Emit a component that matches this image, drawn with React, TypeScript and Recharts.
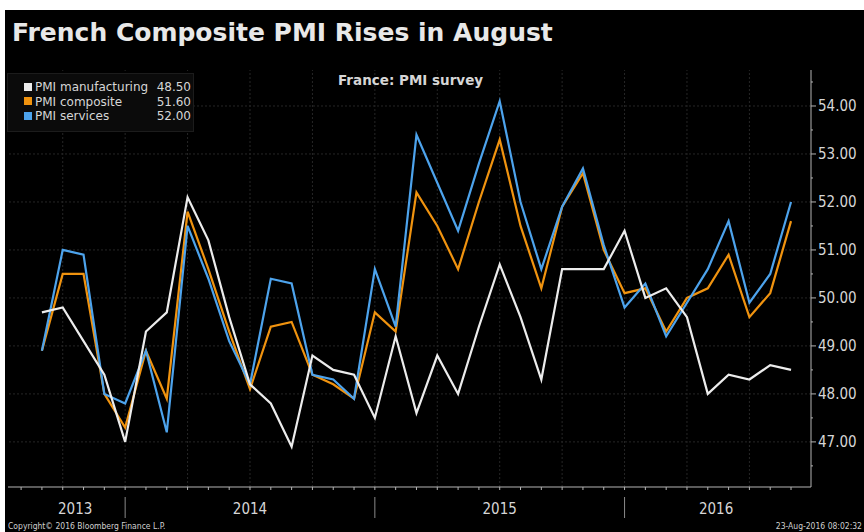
import { LineChart, Line, XAxis, YAxis, ReferenceLine } from 'recharts';

// monthly readings, Aug 2013 .. Aug 2016
const months = [
  'Aug-13', 'Sep-13', 'Oct-13', 'Nov-13', 'Dec-13',
  'Jan-14', 'Feb-14', 'Mar-14', 'Apr-14', 'May-14', 'Jun-14', 'Jul-14', 'Aug-14', 'Sep-14', 'Oct-14', 'Nov-14', 'Dec-14',
  'Jan-15', 'Feb-15', 'Mar-15', 'Apr-15', 'May-15', 'Jun-15', 'Jul-15', 'Aug-15', 'Sep-15', 'Oct-15', 'Nov-15', 'Dec-15',
  'Jan-16', 'Feb-16', 'Mar-16', 'Apr-16', 'May-16', 'Jun-16', 'Jul-16', 'Aug-16',
];
const manufacturing = [
  49.7, 49.8, 49.1, 48.4, 47.0,
  49.3, 49.7, 52.1, 51.2, 49.6, 48.2, 47.8, 46.9, 48.8, 48.5, 48.4, 47.5,
  49.2, 47.6, 48.8, 48.0, 49.4, 50.7, 49.6, 48.3, 50.6, 50.6, 50.6, 51.4,
  50.0, 50.2, 49.6, 48.0, 48.4, 48.3, 48.6, 48.5,
];
const composite = [
  48.9, 50.5, 50.5, 48.0, 47.3,
  48.9, 47.9, 51.8, 50.6, 49.3, 48.1, 49.4, 49.5, 48.4, 48.2, 47.9, 49.7,
  49.3, 52.2, 51.5, 50.6, 52.0, 53.3, 51.5, 50.2, 51.9, 52.6, 51.0, 50.1,
  50.2, 49.3, 50.0, 50.2, 50.9, 49.6, 50.1, 51.6,
];
const services = [
  48.9, 51.0, 50.9, 48.0, 47.8,
  48.9, 47.2, 51.5, 50.4, 49.1, 48.2, 50.4, 50.3, 48.4, 48.3, 47.9, 50.6,
  49.4, 53.4, 52.4, 51.4, 52.8, 54.1, 52.0, 50.6, 51.9, 52.7, 51.1, 49.8,
  50.3, 49.2, 49.9, 50.6, 51.6, 49.9, 50.5, 52.0,
];

const yearLabels = ['2013', '2014', '2015', '2016'];
const yearCenters = [1.6, 10, 22, 32.4]; // month index where each year label sits
const yearBreaks = [4, 16, 28]; // December points
const quarterGrid = [1, 4, 7, 10, 13, 16, 19, 22, 25, 28, 31, 34];
const valueGrid = [47, 48, 49, 50, 51, 52, 53, 54];
const yTicks = [46.5, 47, 47.5, 48, 48.5, 49, 49.5, 50, 50.5, 51, 51.5, 52, 52.5, 53, 53.5, 54, 54.5];

const data = months.map((m, i) => ({
  idx: i,
  month: m,
  manufacturing: manufacturing[i],
  composite: composite[i],
  services: services[i],
}));

const monthTicks = [-1, ...months.map((_, i) => i)];
const xTicks = [...monthTicks, ...yearCenters.filter((v) => !Number.isInteger(v))].sort((a, b) => a - b);

const FONT = '"DejaVu Sans Condensed", "DejaVu Sans", sans-serif';
const WIDE = '"DejaVu Sans", sans-serif';
const AXIS = '#b4b4b4';
const TEXT = '#d6d6d6';

const YTick = (props: any) => {
  const { x, y, payload } = props;
  const major = Number.isInteger(payload.value);
  return (
    <g>
      <line x1={x} x2={x + (major ? 5 : 2)} y1={y} y2={y} stroke={AXIS} strokeWidth={1} />
      {major && (
        <text x={x + 7} y={y} dy={5} fill={TEXT} fontSize={15} fontFamily={FONT}>
          {payload.value.toFixed(2)}
        </text>
      )}
    </g>
  );
};

const XTick = (props: any) => {
  const { x, y, payload } = props;
  const v = payload.value;
  const yi = yearCenters.indexOf(v);
  return (
    <g>
      {Number.isInteger(v) && <line x1={x} x2={x} y1={y} y2={y + 3} stroke={AXIS} strokeWidth={1} />}
      {yearBreaks.includes(v) && <line x1={x} x2={x} y1={y + 10} y2={y + 31} stroke="#8a8a8a" strokeWidth={1} />}
      {yi >= 0 && (
        <text x={x} y={y + 22} dy={5} textAnchor="middle" fill={TEXT} fontSize={15} fontFamily={FONT}>
          {yearLabels[yi]}
        </text>
      )}
    </g>
  );
};

const legendRows = [
  { name: 'PMI manufacturing', value: manufacturing[manufacturing.length - 1], color: '#ececec' },
  { name: 'PMI composite', value: composite[composite.length - 1], color: '#f0930f' },
  { name: 'PMI services', value: services[services.length - 1], color: '#4da3ec' },
];

export default function App() {
  return (
    <>
      <style>{'body{margin:0;background:#fff;}'}</style>
      <div style={{ position: 'absolute', left: 5, top: 10, width: 859, height: 522, background: '#000', fontFamily: FONT }}>
        <LineChart width={859} height={522} data={data} margin={{ top: 60, right: 3, left: 3, bottom: 5 }}>
          <XAxis
            dataKey="idx"
            type="number"
            domain={[-1.63, 36.96]}
            ticks={xTicks}
            interval={0}
            height={40}
            tickSize={0}
            tickMargin={0}
            tickLine={false}
            axisLine={{ stroke: AXIS }}
            tick={<XTick />}
          />
          <YAxis
            orientation="right"
            type="number"
            domain={[46.06, 54.75]}
            ticks={yTicks}
            interval={0}
            width={50}
            tickSize={0}
            tickMargin={0}
            tickLine={false}
            axisLine={{ stroke: AXIS }}
            tick={<YTick />}
          />
          {valueGrid.map((v) => (
            <ReferenceLine key={'h' + v} y={v} stroke="#262626" strokeDasharray="2 2" />
          ))}
          {quarterGrid.map((v) => (
            <ReferenceLine key={'v' + v} x={v} stroke="#262626" strokeDasharray="2 2" />
          ))}
          <Line type="linear" dataKey="composite" stroke="#f0930f" strokeWidth={2.2} dot={false} isAnimationActive={false} />
          <Line type="linear" dataKey="services" stroke="#4da3ec" strokeWidth={2.2} dot={false} isAnimationActive={false} />
          <Line type="linear" dataKey="manufacturing" stroke="#ececec" strokeWidth={2.2} dot={false} isAnimationActive={false} />
        </LineChart>

        <div style={{ position: 'absolute', left: 7, top: 8, color: '#e8e8e8', fontSize: 25, fontWeight: 'bold', whiteSpace: 'nowrap', fontFamily: WIDE }}>
          French Composite PMI Rises in August
        </div>
        <div style={{ position: 'absolute', left: 333, top: 62, color: TEXT, fontSize: 13.5, fontWeight: 'bold', whiteSpace: 'nowrap', fontFamily: WIDE }}>
          France: PMI survey
        </div>

        <div style={{ position: 'absolute', left: 2, top: 63, width: 187, height: 59, background: '#0b0b0b', border: '1px solid #1c1c1c', boxSizing: 'border-box' }}>
          {legendRows.map((r, i) => (
            <div key={r.name} style={{ position: 'absolute', left: 16, top: 6 + i * 14.5, width: 167, height: 14, fontSize: 12, color: TEXT, lineHeight: '14px', whiteSpace: 'nowrap', fontFamily: WIDE }}>
              <span style={{ display: 'inline-block', width: 8, height: 8, background: r.color, marginRight: 3, verticalAlign: 'middle', marginTop: -2 }} />
              {r.name}
              <span style={{ position: 'absolute', right: 0 }}>{r.value.toFixed(2)}</span>
            </div>
          ))}
        </div>

        <div style={{ position: 'absolute', left: 3, top: 511, fontSize: 8.5, color: '#cfcfcf', whiteSpace: 'nowrap' }}>
          Copyright© 2016 Bloomberg Finance L.P.
        </div>
        <div style={{ position: 'absolute', right: 2, top: 511, fontSize: 8.5, color: '#cfcfcf', whiteSpace: 'nowrap' }}>
          23-Aug-2016 08:02:32
        </div>
      </div>
    </>
  );
}
